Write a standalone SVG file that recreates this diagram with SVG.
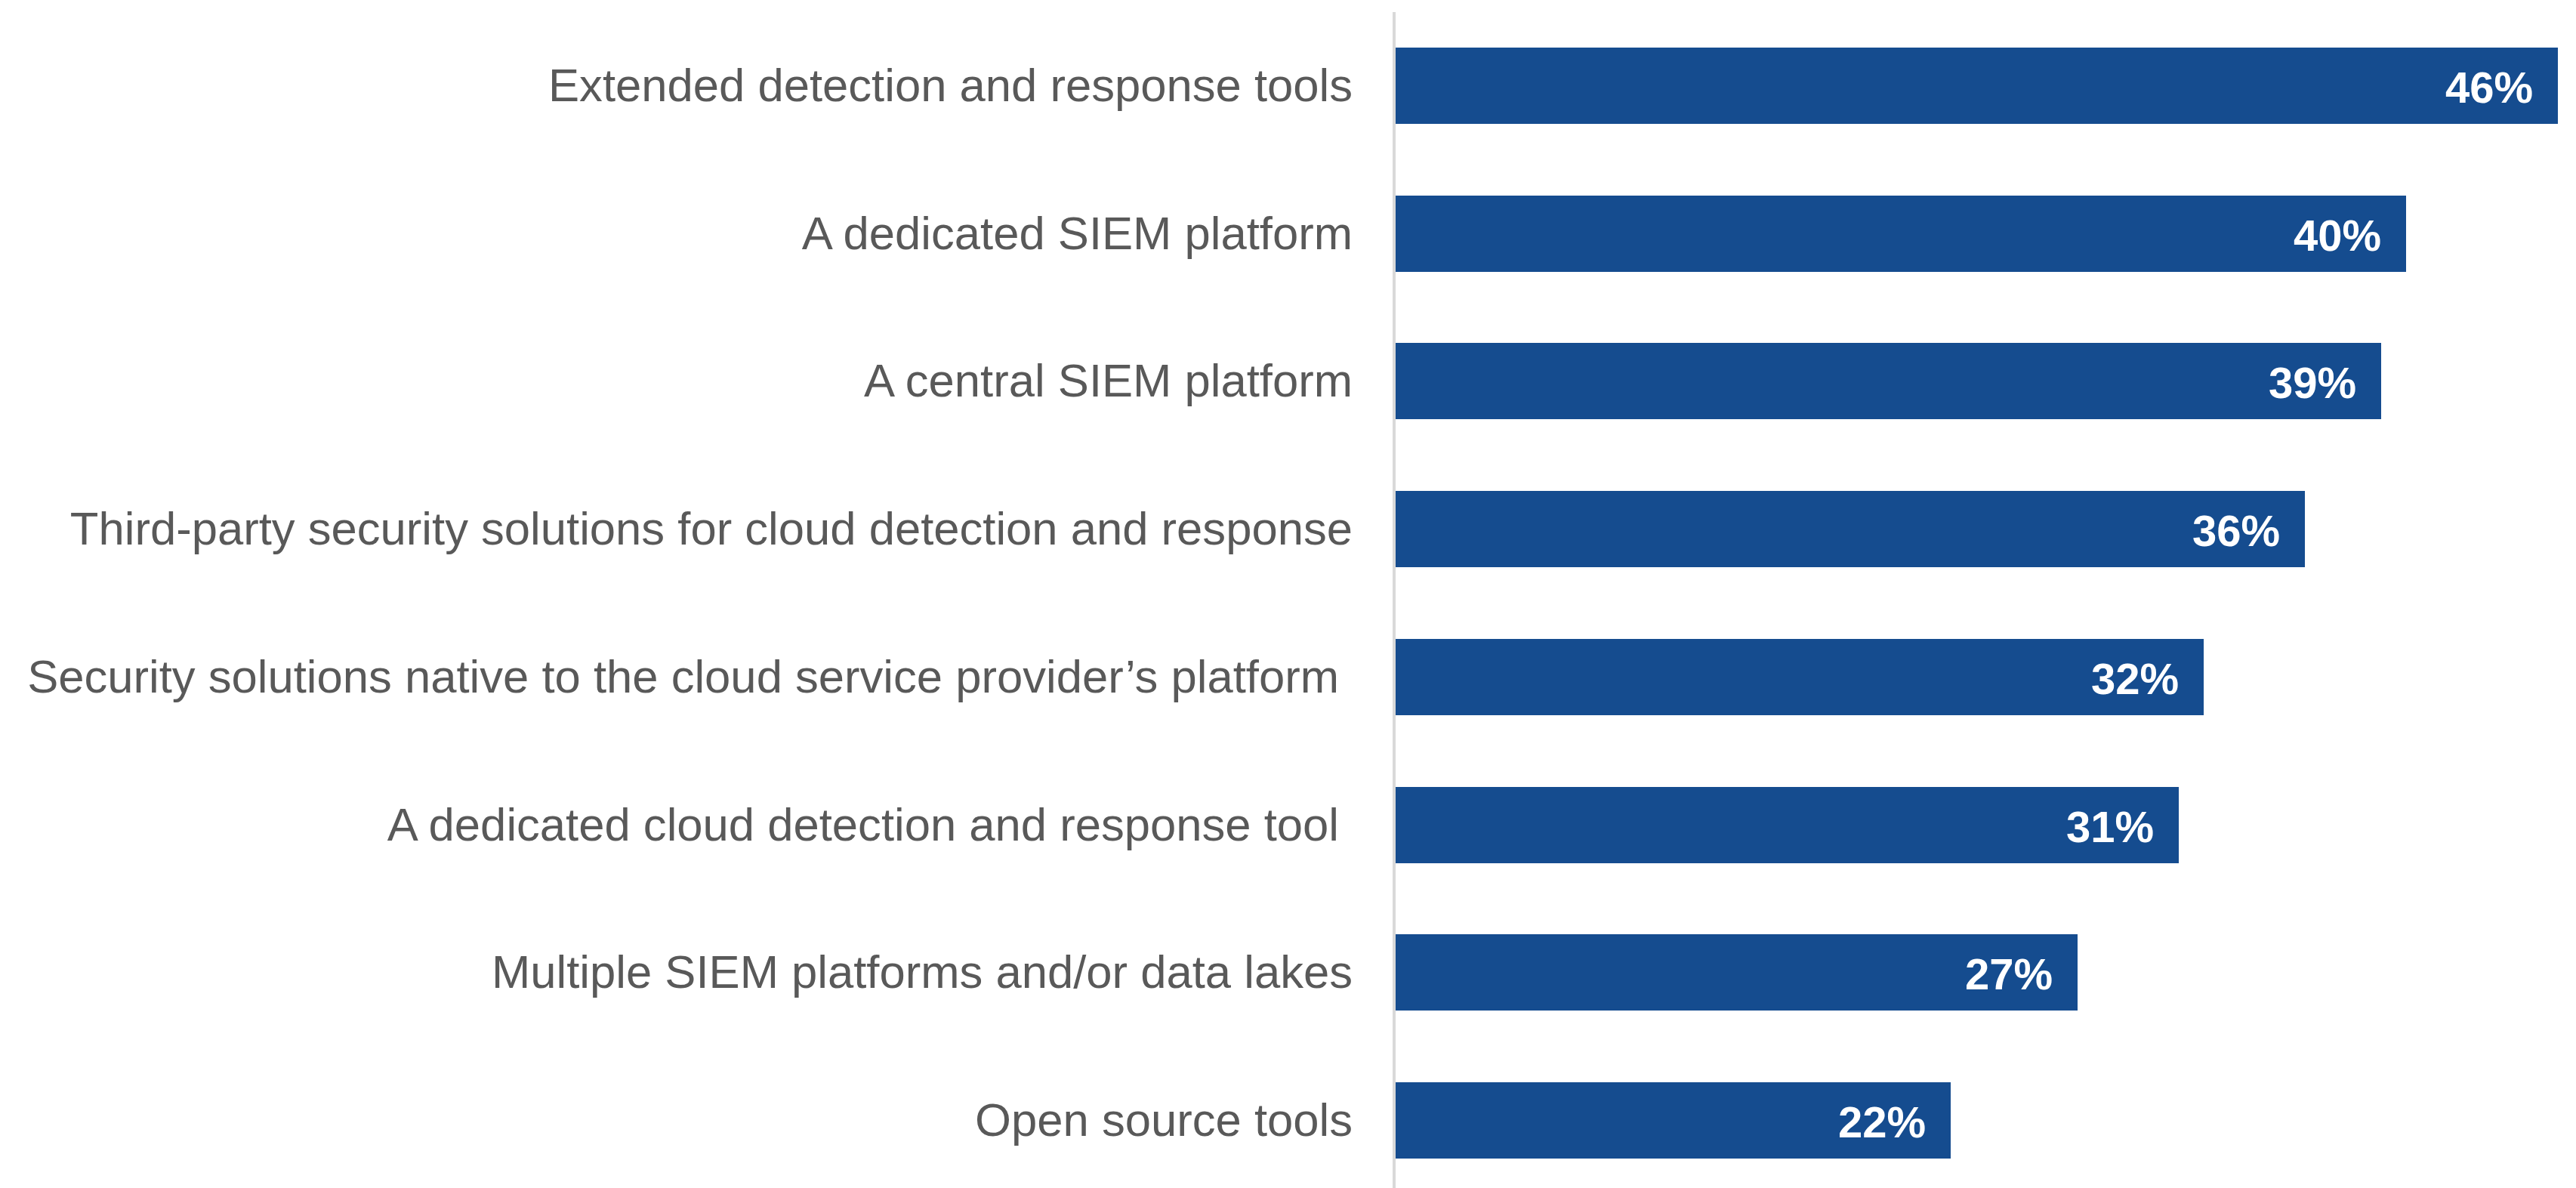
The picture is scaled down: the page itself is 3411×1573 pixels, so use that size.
<svg xmlns="http://www.w3.org/2000/svg" width="3411" height="1573" viewBox="0 0 3411 1573">
  <style>
    .cat { font-family: "Liberation Sans", Arial, sans-serif; font-size: 61.6px; fill: #595959; text-anchor: end; }
    .val { font-family: "Liberation Sans", Arial, sans-serif; font-size: 58px; font-weight: bold; fill: #ffffff; text-anchor: end; }
    .bar { fill: #154C8F; }
    .axis { stroke: #D9D9D9; stroke-width: 4; }
  </style>
  <rect width="3411" height="1573" fill="#ffffff"/>

  <g id="axis">
    <line class="axis" x1="1846" y1="16" x2="1846" y2="1573"/>
  </g>

  <g id="row-1">
    <rect class="bar" x="1848" y="63" width="1539" height="101"/>
    <text class="cat" x="1791" y="134">Extended detection and response tools</text>
    <text class="val" x="3354" y="136">46%</text>
  </g>
  <g id="row-2">
    <rect class="bar" x="1848" y="259" width="1338" height="101"/>
    <text class="cat" x="1791" y="330">A dedicated SIEM platform</text>
    <text class="val" x="3153" y="332">40%</text>
  </g>
  <g id="row-3">
    <rect class="bar" x="1848" y="454" width="1305" height="101"/>
    <text class="cat" x="1791" y="525">A central SIEM platform</text>
    <text class="val" x="3120" y="527">39%</text>
  </g>
  <g id="row-4">
    <rect class="bar" x="1848" y="650" width="1204" height="101"/>
    <text class="cat" x="1791" y="721">Third-party security solutions for cloud detection and response</text>
    <text class="val" x="3019" y="723">36%</text>
  </g>
  <g id="row-5">
    <rect class="bar" x="1848" y="846" width="1070" height="101"/>
    <text class="cat" x="1773" y="917">Security solutions native to the cloud service provider’s platform</text>
    <text class="val" x="2885" y="919">32%</text>
  </g>
  <g id="row-6">
    <rect class="bar" x="1848" y="1042" width="1037" height="101"/>
    <text class="cat" x="1773" y="1113">A dedicated cloud detection and response tool</text>
    <text class="val" x="2852" y="1115">31%</text>
  </g>
  <g id="row-7">
    <rect class="bar" x="1848" y="1237" width="903" height="101"/>
    <text class="cat" x="1791" y="1308">Multiple SIEM platforms and/or data lakes</text>
    <text class="val" x="2718" y="1310">27%</text>
  </g>
  <g id="row-8">
    <rect class="bar" x="1848" y="1433" width="735" height="101"/>
    <text class="cat" x="1791" y="1504">Open source tools</text>
    <text class="val" x="2550" y="1506">22%</text>
  </g>
</svg>
